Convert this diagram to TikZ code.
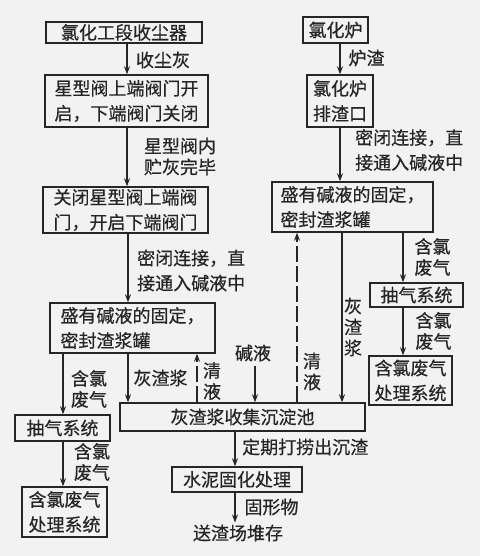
\documentclass[tikz,border=0pt]{standalone}
\usepackage{fontspec}
\setmainfont{Noto Sans CJK SC}[FakeBold=0.6]
\usetikzlibrary{arrows.meta}
\definecolor{ink}{HTML}{262626}
\definecolor{paper}{HTML}{F2F2F2}
\newcommand\zfont{\fontsize{18}{25}\selectfont}
\newcommand\zfontb{\fontsize{18}{21}\selectfont}
\begin{document}
\begin{tikzpicture}[x=1pt,y=-1pt,
  box/.style={draw=ink,line width=1.4pt,inner sep=0pt,align=center,font=\zfont,text=ink},
  lbox/.style={box,align=left},
  lbl/.style={inner sep=0pt,font=\zfont,text=ink,align=left},
  arr/.style={draw=ink,line width=1.4pt,-{Stealth[length=8pt,width=6pt]}},
  darr/.style={arr,dash pattern=on 16pt off 4pt}]
\fill[paper] (0,0) rectangle (480,556);
\useasboundingbox (0,0) rectangle (480,556);
% left column
\node[box,minimum width=156pt,minimum height=21pt] (n1) at (124,32.5) {氯化工段收尘器};
\node[lbox,minimum width=163pt,minimum height=52pt] (n2) at (126.5,101) {星型阀上端阀门开\\启，下端阀门关闭};
\node[lbox,minimum width=165pt,minimum height=46pt] (n3) at (125.5,210) {关闭星型阀上端阀\\门，开启下端阀门};
\node[lbox,minimum width=165pt,minimum height=50pt] (n4) at (132.5,328) {盛有碱液的固定，\\密封渣浆罐};
\node[box,minimum width=95pt,minimum height=26pt] (n5) at (62.5,428) {抽气系统};
\node[box,minimum width=85pt,minimum height=50pt] (n6) at (64.5,512) {含氯废气\\处理系统};
\node[box,minimum width=245pt,minimum height=28pt] (pool) at (242.5,417) {灰渣浆收集沉淀池};
\node[box,minimum width=130pt,minimum height=25pt] (cem) at (237,479.5) {水泥固化处理};
\node[lbl] (endt) at (238,533) {送渣场堆存};
\node[lbl] (alk) at (253,353) {碱液};
% right column
\node[box,minimum width=65pt,minimum height=26pt] (r1) at (335.5,30) {氯化炉};
\node[box,minimum width=66pt,minimum height=52pt] (r2) at (340,101) {氯化炉\\排渣口};
\node[lbox,minimum width=161pt,minimum height=50pt] (r3) at (352.5,207) {盛有碱液的固定，\\密封渣浆罐};
\node[box,minimum width=93pt,minimum height=24pt] (r4) at (416.5,295) {抽气系统};
\node[box,minimum width=83pt,minimum height=49pt] (r5) at (410.5,380.5) {含氯废气\\处理系统};
% connector x positions
\coordinate (xa) at (127,0);
\coordinate (xb) at (128,0);
\coordinate (xc) at (63,0);
\coordinate (xd) at (197,0);
\coordinate (xe) at (255,0);
\coordinate (xf) at (297,0);
\coordinate (xg) at (342,0);
\coordinate (xh) at (235,0);
\coordinate (xi) at (340,0);
\coordinate (xj) at (403,0);
% connectors
\draw[arr] (n1.south -| xa) -- (n2.north -| xa);
\draw[arr] (n2.south -| xa) -- (n3.north -| xa);
\draw[arr] (n3.south -| xb) -- (n4.north -| xb);
\draw[arr] (n4.south -| xc) -- (n5.north -| xc);
\draw[arr] (n5.south -| xc) -- (n6.north -| xc);
\draw[arr] (n4.south -| xb) -- (pool.north -| xb);
\draw[darr] (pool.north -| xd) -- (n4.south -| xd);
\draw[arr] ([yshift=-4pt]alk.south -| xe) -- (pool.north -| xe);
\draw[darr] (pool.north -| xf) -- (r3.south -| xf);
\draw[arr] (r3.south -| xg) -- (pool.north -| xg);
\draw[arr] (pool.south -| xh) -- (cem.north -| xh);
\draw[arr] (cem.south -| xh) -- ([yshift=2pt]endt.north -| xh);
\draw[arr] (r1.south -| xi) -- (r2.north -| xi);
\draw[arr] (r2.south -| xi) -- (r3.north -| xi);
\draw[arr] (r3.south -| xj) -- (r4.north -| xj);
\draw[arr] (r4.south -| xj) -- (r5.north -| xj);
% labels
\node[lbl] (l1) at (163,60) {收尘灰};
\node[lbl,font=\zfontb,inner sep=0pt] (l2) at (180,156.5) {星型阀内\\贮灰完毕};
\node[lbl,anchor=west] (l3) at (137,270.5) {密闭连接，直\\接通入碱液中};
\node[lbl,font=\zfontb] (l4) at (89,389) {含氯\\废气};
\node[lbl] (l5) at (160.5,378) {灰渣浆};
\node[lbl,font=\zfontb] (l6) at (212,381) {清\\液};
\node[lbl,font=\zfontb] (l7) at (312,371.5) {清\\液};
\node[lbl,font=\zfontb,align=center] (l8) at (353,327) {灰\\渣\\浆};
\node[lbl,font=\zfontb] (l9) at (92,462) {含氯\\废气};
\node[lbl,anchor=west] (l10) at (242,447) {定期打捞出沉渣};
\node[lbl] (l11) at (271.5,507) {固形物};
\node[lbl] (l12) at (366.5,58) {炉渣};
\node[lbl,anchor=west] (l13) at (355,150) {密闭连接，直\\接通入碱液中};
\node[lbl,font=\zfontb] (l14) at (432.5,257) {含氯\\废气};
\node[lbl,font=\zfontb] (l15) at (433.5,331) {含氯\\废气};
\end{tikzpicture}
\end{document}
